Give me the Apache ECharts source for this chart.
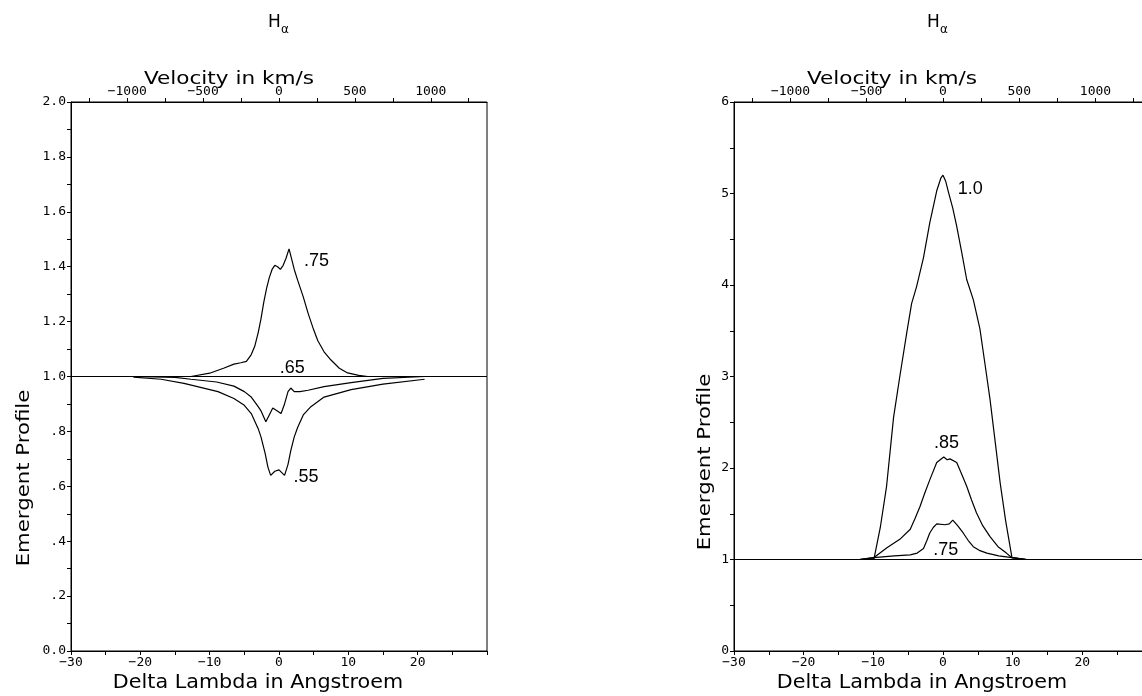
<!DOCTYPE html>
<html><head><meta charset="utf-8">
<script src="https://cdn.jsdelivr.net/npm/echarts@6/dist/echarts.min.js"></script>
<style>html,body{margin:0;padding:0;background:#fff;overflow:hidden}#c{width:1160px;height:696px}</style>
</head><body><div id="c"></div>
<script>
// ---------- data ----------
const LAMBDA0 = 6562.8;        // H-alpha rest wavelength (Angstroem)
const C_KMS = 299792.458;      // speed of light (km/s)
const dLambdaRange = [-30, 30];
const velLabelValues = [-1000, -500, 0, 500, 1000];
const velTickValues = [-1250, -1000, -750, -500, -250, 0, 250, 500, 750, 1000, 1250];

// Left panel: [Delta lambda, emergent profile]
const left75 = [[-21,1.0],[-15,1.0],[-12.7,1.0],[-10,1.012],[-8,1.03],[-6.5,1.045],[-5.5,1.05],[-4.7,1.055],[-4,1.08],[-3.5,1.11],[-3,1.16],[-2.6,1.21],[-2.2,1.27],[-1.8,1.32],[-1.4,1.36],[-1.0,1.39],[-0.6,1.405],[-0.2,1.4],[0.2,1.39],[0.6,1.405],[1.0,1.43],[1.45,1.465],[1.8,1.43],[2.2,1.39],[2.7,1.35],[3.5,1.29],[4.2,1.23],[5,1.17],[5.6,1.13],[6.5,1.09],[7.5,1.06],[8.7,1.03],[9.9,1.013],[11.5,1.004],[12.8,1.0],[21,1.0]];
const left65 = [[-21,1.0],[-15,0.997],[-12.7,0.99],[-9,0.98],[-6.5,0.965],[-5,0.945],[-4,0.925],[-3,0.89],[-2.6,0.875],[-1.9,0.835],[-1.4,0.86],[-0.9,0.885],[-0.3,0.875],[0.3,0.865],[0.8,0.9],[1.3,0.945],[1.7,0.958],[2.2,0.945],[3,0.945],[4.2,0.95],[6.5,0.963],[10.4,0.978],[15,0.993],[21,1.0]];
const left55 = [[-21,0.998],[-17,0.99],[-13.7,0.975],[-8.8,0.945],[-6.5,0.92],[-5,0.895],[-4,0.865],[-3,0.81],[-2.6,0.78],[-2,0.72],[-1.6,0.67],[-1.2,0.64],[-0.6,0.655],[0,0.66],[0.4,0.65],[0.8,0.64],[1.3,0.68],[1.7,0.73],[2.2,0.78],[2.7,0.815],[3.5,0.86],[4.6,0.89],[6.5,0.925],[10.4,0.952],[15,0.972],[21,0.99]];

// Right panel
const right100 = [[-21,1.0],[-12,1.0],[-9.9,1.01],[-9.0,1.35],[-8.1,1.8],[-7.1,2.55],[-6.2,3.0],[-5.2,3.48],[-4.5,3.8],[-3.8,3.98],[-2.8,4.3],[-1.9,4.68],[-0.9,5.03],[-0.3,5.17],[0,5.2],[0.4,5.13],[0.8,5.01],[1.4,4.84],[1.95,4.65],[2.7,4.35],[3.4,4.06],[4.35,3.84],[5.3,3.52],[6.0,3.15],[6.75,2.75],[7.5,2.28],[8.2,1.84],[9.0,1.42],[9.9,1.02],[12,1.0],[21,1.0]];
const right85 = [[-21,1.0],[-12,1.0],[-9.95,1.02],[-8.0,1.13],[-6.2,1.22],[-4.7,1.33],[-4.0,1.45],[-3.3,1.58],[-2.6,1.73],[-1.9,1.87],[-0.9,2.06],[0.1,2.12],[0.6,2.09],[1.0,2.1],[1.97,2.06],[2.7,1.93],[3.4,1.80],[4.1,1.65],[4.8,1.51],[5.7,1.37],[6.75,1.25],[7.9,1.14],[9.1,1.07],[9.9,1.02],[12,1.0],[21,1.0]];
const right75 = [[-21,1.0],[-12,1.0],[-9.95,1.02],[-7.0,1.04],[-4.7,1.05],[-3.7,1.07],[-2.8,1.12],[-2.3,1.21],[-1.9,1.29],[-1.4,1.35],[-0.9,1.39],[0.3,1.38],[0.9,1.39],[1.4,1.43],[2.1,1.37],[2.9,1.29],[3.6,1.21],[4.35,1.14],[5.2,1.1],[6.3,1.07],[8.0,1.04],[9.9,1.02],[12,1.0],[21,1.0]];

// curve labels: [text, Delta lambda, profile]
const leftLabels = [['.75', 5.4, 1.42], ['.65', 1.9, 1.03], ['.55', 3.9, 0.634]];
const rightLabels = [['1.0', 3.9, 5.05], ['.85', 0.5, 2.27], ['.75', 0.4, 1.10]];

// ---------- chart ----------
const vMin = dLambdaRange[0] / LAMBDA0 * C_KMS;
const vMax = dLambdaRange[1] / LAMBDA0 * C_KMS;
const MONO = "'DejaVu Sans Mono', monospace";
const SANS = "'DejaVu Sans', sans-serif";
const LBL = "'Liberation Sans Narrow', 'Liberation Sans', sans-serif";
const black = '#000';

function minus(v) { return v < 0 ? '\u2212' + (-v) : String(v); }

function bottomAxis(g) {
  return {
    gridIndex: g, type: 'value', position: 'bottom',
    min: dLambdaRange[0], max: dLambdaRange[1], interval: 5,
    axisLine: { onZero: false, lineStyle: { color: black, width: 1 } },
    axisTick: { length: 4, lineStyle: { color: black } },
    splitLine: { show: false },
    axisLabel: {
      color: black, fontFamily: MONO, fontSize: 13, margin: 5,
      formatter: v => (Math.abs(v % 10) < 1e-9 && v < 30) ? minus(v) : ''
    }
  };
}
function topAxis(g) {
  return {
    gridIndex: g, type: 'value', position: 'top',
    min: vMin, max: vMax,
    axisLine: { onZero: false, lineStyle: { color: black, width: 1 } },
    axisTick: { length: 4, customValues: velTickValues, lineStyle: { color: black } },
    splitLine: { show: false },
    axisLabel: { color: black, fontFamily: MONO, fontSize: 13, margin: 4,
      customValues: velLabelValues, formatter: v => minus(Math.round(v)) }
  };
}
function leftAxis(g, max, interval, fmt) {
  return { gridIndex: g, type: 'value', min: 0, max: max, interval: interval,
    axisLine: { show: true, onZero: false, lineStyle: { color: black } },
    axisTick: { show: true, length: 4, lineStyle: { color: black } },
    splitLine: { show: false },
    axisLabel: { color: black, fontFamily: MONO, fontSize: 13, margin: 5, formatter: fmt } };
}

function lineSeries(data, xi, yi, label) {
  return {
    type: 'line', data: data, xAxisIndex: xi, yAxisIndex: yi,
    showSymbol: false, symbol: 'none', smooth: false, silent: true,
    lineStyle: { color: black, width: 1.2 },
    markPoint: {
      symbol: 'circle', symbolSize: 0, silent: true,
      label: { show: true, position: 'inside', formatter: label[0], color: black,
               fontFamily: LBL, fontSize: 18 },
      data: [{ coord: [label[1], label[2]] }]
    }
  };
}
function baseline(xi, yi) {
  return {
    type: 'line', data: [], xAxisIndex: xi, yAxisIndex: yi, silent: true,
    markLine: { silent: true, symbol: 'none', label: { show: false },
      lineStyle: { color: black, width: 1, type: 'solid' }, data: [{ yAxis: 1 }] }
  };
}

const option = {
  animation: false,
  backgroundColor: '#fff',
  grid: [
    { left: 71, top: 102, width: 416, height: 549, show: true, borderColor: black, borderWidth: 1 },
    { left: 734, top: 102, width: 418, height: 549, show: true, borderColor: black, borderWidth: 1 }
  ],
  xAxis: [bottomAxis(0), topAxis(0), bottomAxis(1), topAxis(1)],
  yAxis: [
    leftAxis(0, 2, 0.1, v => {
      const k = Math.round(v * 10);
      if (k % 2) return '';
      if (k === 0) return '0.0';
      if (k >= 10) return (k / 10).toFixed(1);
      return '.' + k;
    }),
    leftAxis(1, 6, 0.5, v => (Math.abs(v % 1) < 1e-9) ? String(v) : '')
  ],
  series: [
    baseline(0, 0),
    lineSeries(left75, 0, 0, leftLabels[0]),
    lineSeries(left65, 0, 0, leftLabels[1]),
    lineSeries(left55, 0, 0, leftLabels[2]),
    baseline(2, 1),
    lineSeries(right100, 2, 1, rightLabels[0]),
    lineSeries(right85, 2, 1, rightLabels[1]),
    lineSeries(right75, 2, 1, rightLabels[2])
  ],
  graphic: [
    { type: 'text', left: 268, top: 14, style: { text: 'H', font: "17px " + SANS, fill: black } },
    { type: 'text', left: 281, top: 24, style: { text: '\u03b1', font: "12px " + SANS, fill: black } },
    { type: 'text', left: 927, top: 14, style: { text: 'H', font: "17px " + SANS, fill: black } },
    { type: 'text', left: 940, top: 24, style: { text: '\u03b1', font: "12px " + SANS, fill: black } },
    { type: 'text', x: 229, y: 79, scaleX: 1.2,
      style: { text: 'Velocity in km/s', font: "18px " + SANS, fill: black, align: 'center', verticalAlign: 'middle' } },
    { type: 'text', x: 892, y: 79, scaleX: 1.2,
      style: { text: 'Velocity in km/s', font: "18px " + SANS, fill: black, align: 'center', verticalAlign: 'middle' } },
    { type: 'text', x: 258, y: 683, scaleX: 1.09,
      style: { text: 'Delta Lambda in Angstroem', font: "19px " + SANS, fill: black, align: 'center', verticalAlign: 'middle' } },
    { type: 'text', x: 922, y: 683, scaleX: 1.09,
      style: { text: 'Delta Lambda in Angstroem', font: "19px " + SANS, fill: black, align: 'center', verticalAlign: 'middle' } },
    { type: 'text', x: 24, y: 478, rotation: Math.PI / 2, scaleX: 1.18,
      style: { text: 'Emergent Profile', font: "18px " + SANS, fill: black, align: 'center', verticalAlign: 'middle' } },
    { type: 'text', x: 705, y: 462, rotation: Math.PI / 2, scaleX: 1.18,
      style: { text: 'Emergent Profile', font: "18px " + SANS, fill: black, align: 'center', verticalAlign: 'middle' } }
  ]
};

const chart = echarts.init(document.getElementById('c'), null, { renderer: 'canvas' });
chart.setOption(option);
</script>
</body></html>
